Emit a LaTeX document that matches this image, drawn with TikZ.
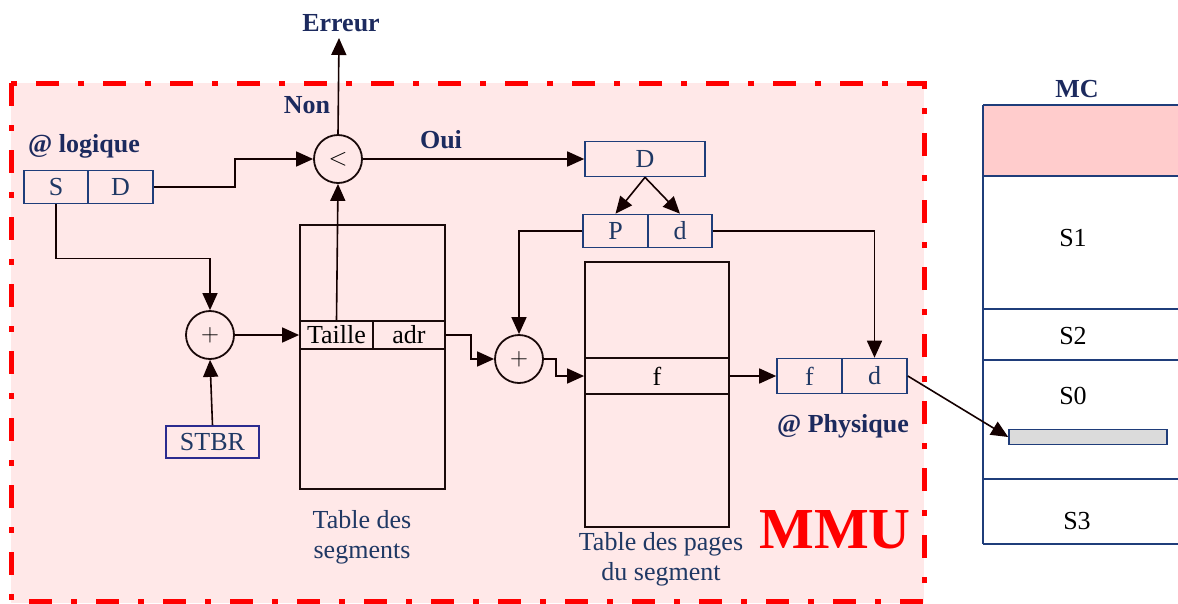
\documentclass[tikz,border=0pt]{standalone}
\usepackage{fontspec}
\setmainfont{Liberation Serif}
\usetikzlibrary{arrows.meta}
\definecolor{navy}{HTML}{1F3864}
\definecolor{labcol}{HTML}{1C2A5E}
\definecolor{boxcol}{HTML}{1F3D7A}
\definecolor{stbrcol}{HTML}{2B2B8F}
\definecolor{tabcol}{HTML}{1A0A0A}
\definecolor{arrcol}{HTML}{140000}
\definecolor{mmufill}{HTML}{FFE8E8}
\definecolor{mcpink}{HTML}{FFCCCC}
\tikzset{
	cell/.style={draw=boxcol,line width=1.6pt,inner sep=0pt,minimum height=33pt,text=navy},
	stbrbox/.style={draw=stbrcol,line width=1.6pt,inner sep=0pt,minimum width=93pt,minimum height=32pt,text=navy},
	tabl/.style={draw=tabcol,line width=1.8pt,inner sep=0pt},
	sum/.style={circle,draw=tabcol,line width=1.8pt,inner sep=0pt,minimum size=48pt},
	conn/.style={draw=arrcol,line width=1.6pt},
	arr/.style={conn,-{Triangle[length=17pt,width=15pt]}},
	lbl/.style={font=\fontsize{26}{30}\selectfont\bfseries,text=labcol,inner sep=0pt},
	capt/.style={text=navy,align=center,inner sep=0pt,anchor=north},
	mcline/.style={draw=boxcol,line width=1.6pt},
	mmuborder/.style={draw=red,line width=5pt,dash pattern=on 23pt off 19pt on 6pt off 19pt},
}
\begin{document}
\begin{tikzpicture}[x=1pt,y=-1pt,font=\fontsize{26}{30}\selectfont]
\useasboundingbox (0,0) rectangle (1178,603);

% zone MMU
\fill[mmufill] (11,83) rectangle (924,603);
\draw[mmuborder] (11,83) rectangle (924,601);

% memoire centrale
\fill[mcpink] (983,105) rectangle (1178,176);
\foreach \y in {105,176,309,360,479,544}
  \draw[mcline] (983,\y) -- (1178,\y);
\draw[mcline] (983,105) -- (983,544);
\node[lbl,anchor=base] (mc) at (1077,97) {MC};
\node (ms1) at (1073,238) {S1};
\node (ms2) at (1073,336) {S2};
\node (ms0) at (1073,396) {S0};
\node (ms3) at (1077,521) {S3};
\node[draw=boxcol,line width=1.6pt,fill=gray!28,inner sep=0pt,minimum width=158pt,minimum height=15pt] (blk) at (1088,437) {};

% adresse logique
\node[lbl,anchor=base] (alog) at (84,152) {@ logique};
\node[cell,minimum width=64pt] (s) at (56,187) {S};
\node[cell,minimum width=65pt] (d) at (120.5,187) {D};

% comparaison
\node[sum] (cmp) at (338,159) {$<$};
\node[lbl,anchor=base] (err) at (341,31) {Erreur};
\coordinate (errtip) at (339,38);
\node[lbl,anchor=base] (non) at (307,113) {Non};
\node[lbl,anchor=base] (oui) at (441,148) {Oui};

% table des segments
\node[sum] (plus1) at (210,335) {$+$};
\node[stbrbox] (stbr) at (212.5,442) {STBR};
\node[tabl,minimum width=145pt,minimum height=264pt] (tseg) at (372.5,357) {};
\node[tabl,minimum width=73pt,minimum height=28pt] (taille) at (336.5,335) {Taille};
\node[tabl,minimum width=72pt,minimum height=28pt] (adr) at (409,335) {adr};
\node[capt] (cseg) at (362,510) {Table des\\segments};

% deplacement D -> P, d
\node[cell,minimum width=120pt,minimum height=35pt] (dd) at (645,159) {D};
\node[cell,minimum width=65pt] (p) at (615.5,231) {P};
\node[cell,minimum width=64pt] (dp) at (680,231) {d};

% table des pages
\node[sum] (plus2) at (519,359) {$+$};
\node[tabl,minimum width=144pt,minimum height=265pt] (tpag) at (657,394.5) {};
\node[tabl,minimum width=144pt,minimum height=36pt] (frow) at (657,376) {f};
\node[capt] (cpag) at (661,532) {Table des pages\\du segment};

% adresse physique
\node[cell,minimum width=65pt,minimum height=35pt] (pf) at (809.5,376) {f};
\node[cell,minimum width=65pt,minimum height=35pt] (pd) at (874.5,376) {d};
\node[lbl,anchor=base] (aphy) at (843,432) {@ Physique};

\node[font=\fontsize{58}{60}\selectfont\bfseries,text=red,anchor=base] (mmu) at (835,548) {MMU};

% connexions
\draw[arr] (d.east) -- ++(81,0) |- (cmp.west);
\draw[arr] (cmp.north) -- (errtip);
\draw[arr] (cmp.east) -- (dd.west);
\draw[arr] (dd.south) -- (p.north);
\draw[arr] (dd.south) -- (dp.north);
\draw[arr] (s.south) -- ++(0,54) -| (plus1.north);
\draw[arr] (stbr.north) -- (plus1.south);
\draw[arr] (plus1.east) -- (taille.west);
\draw[arr] (taille.north) -- (cmp.south);
\draw[arr] (adr.east) -- ++(25,0) |- (plus2.west);
\draw[arr] (p.west) -| (plus2.north);
\draw[arr] (plus2.east) -- ++(12,0) |- (frow.west);
\draw[arr] (frow.east) -- (pf.west);
\draw[arr] (dp.east) -| (pd.north);
\draw[arr] (pd.east) -- (blk.west);
\end{tikzpicture}
\end{document}
